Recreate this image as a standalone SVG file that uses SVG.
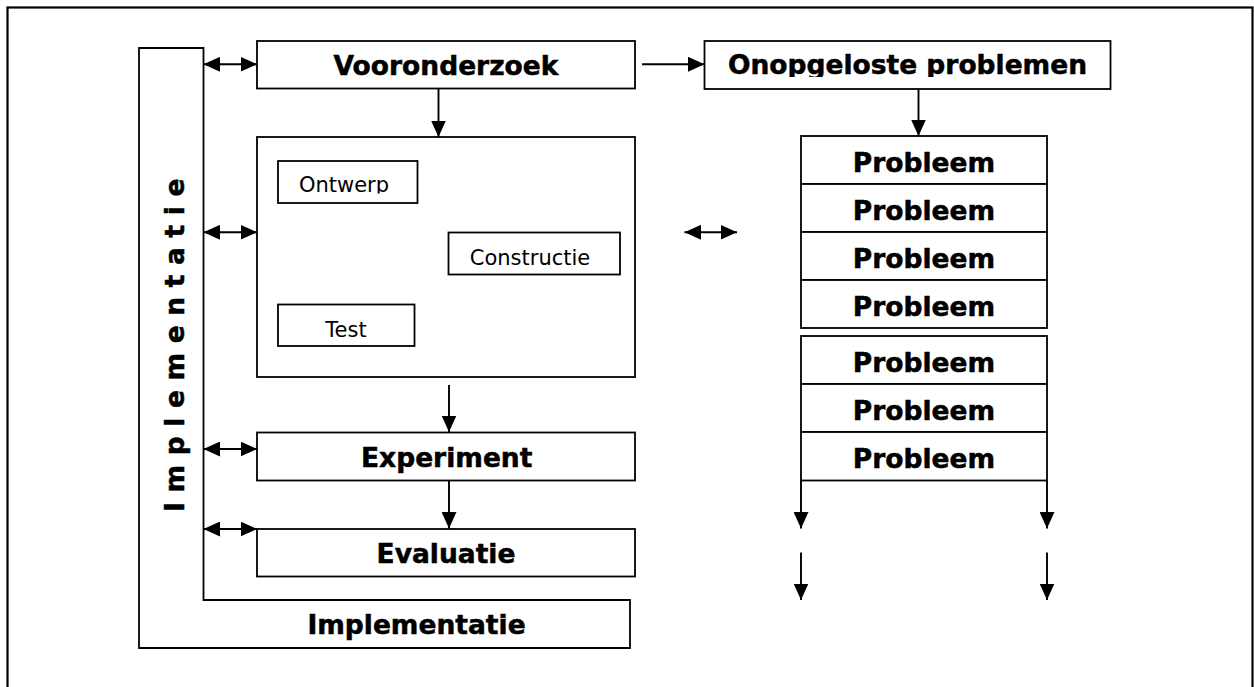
<svg xmlns="http://www.w3.org/2000/svg" width="1254" height="687" viewBox="0 0 1254 687">
<style>
.box{fill:#fff;stroke:#000;stroke-width:1.8}
.b{font-family:"DejaVu Sans","Liberation Sans",sans-serif;font-weight:bold;font-size:26.5px;fill:#000;stroke:#000;stroke-width:0.5;text-anchor:middle}
.r{font-family:"DejaVu Sans","Liberation Sans",sans-serif;font-size:21px;fill:#000;text-anchor:middle}
.c{fill:none;stroke:#000;stroke-width:1.9}
</style>
<defs>
<marker id="ah" markerUnits="userSpaceOnUse" markerWidth="17" markerHeight="15" refX="16.5" refY="7.5" orient="auto-start-reverse">
<path d="M0,0 L16.5,7.5 L0,15 z" fill="#000"/>
</marker>
<clipPath id="clipOnt"><rect x="278" y="161" width="139" height="32.5"/></clipPath>
<clipPath id="clipOno"><rect x="705" y="41" width="405" height="36"/></clipPath>
</defs>
<rect x="7.5" y="7.5" width="1245" height="700" fill="#fff" stroke="#000" stroke-width="2.2"/>

<g id="implementatie">
<path class="box" d="M139,48 L203.5,48 L203.5,600 L630,600 L630,648 L139,648 Z"/>
<text class="b" transform="translate(183.5,512) rotate(-90)" style="text-anchor:start;letter-spacing:9.6px">Implementatie</text>
<text class="b" x="416.5" y="634.3">Implementatie</text>
</g>

<g id="vooronderzoek">
<rect class="box" x="257" y="41" width="378" height="47.5"/>
<text class="b" x="446" y="75">Vooronderzoek</text>
</g>

<g id="onopgeloste">
<rect class="box" x="704.5" y="41" width="406" height="48"/>
<text class="b" x="907.5" y="74.3" clip-path="url(#clipOno)">Onopgeloste problemen</text>
</g>

<g id="ontwerpfase">
<rect class="box" x="257" y="137" width="378" height="240"/>
</g>
<g id="ontwerp">
<rect class="box" x="278" y="161" width="139.5" height="42"/>
<text class="r" x="344" y="192.3" clip-path="url(#clipOnt)">Ontwerp</text>
</g>
<g id="constructie">
<rect class="box" x="448.5" y="232.5" width="171.5" height="42"/>
<text class="r" x="530" y="265">Constructie</text>
</g>
<g id="test">
<rect class="box" x="278" y="304.5" width="136.5" height="41.5"/>
<text class="r" x="346" y="336.7">Test</text>
</g>

<g id="experiment">
<rect class="box" x="257" y="432.5" width="378" height="48"/>
<text class="b" x="446.7" y="467.3">Experiment</text>
</g>
<g id="evaluatie">
<rect class="box" x="257" y="529" width="378" height="47.5"/>
<text class="b" x="446" y="562.7">Evaluatie</text>
</g>

<g id="problemen1">
<rect class="box" x="801" y="136" width="246" height="48"/>
<text class="b" x="924" y="171.7">Probleem</text>
<rect class="box" x="801" y="184" width="246" height="48"/>
<text class="b" x="924" y="219.7">Probleem</text>
<rect class="box" x="801" y="232" width="246" height="48"/>
<text class="b" x="924" y="267.7">Probleem</text>
<rect class="box" x="801" y="280" width="246" height="48"/>
<text class="b" x="924" y="315.7">Probleem</text>
</g>
<g id="problemen2">
<rect class="box" x="801" y="336" width="246" height="48"/>
<text class="b" x="924" y="371.7">Probleem</text>
<rect class="box" x="801" y="384" width="246" height="48"/>
<text class="b" x="924" y="419.7">Probleem</text>
<rect class="box" x="801" y="432" width="246" height="48.5"/>
<text class="b" x="924" y="467.7">Probleem</text>
</g>

<g id="connectors">
<line class="c" x1="203.5" y1="64.3" x2="257" y2="64.3" marker-start="url(#ah)" marker-end="url(#ah)"/>
<line class="c" x1="203.5" y1="232.3" x2="257" y2="232.3" marker-start="url(#ah)" marker-end="url(#ah)"/>
<line class="c" x1="203.5" y1="449" x2="257" y2="449" marker-start="url(#ah)" marker-end="url(#ah)"/>
<line class="c" x1="203.5" y1="529" x2="257" y2="529" marker-start="url(#ah)" marker-end="url(#ah)"/>
<line class="c" x1="684.5" y1="232.3" x2="737" y2="232.3" marker-start="url(#ah)" marker-end="url(#ah)"/>
<line class="c" x1="642" y1="64.3" x2="704.5" y2="64.3" marker-end="url(#ah)"/>
<line class="c" x1="438.5" y1="88.5" x2="438.5" y2="137" marker-end="url(#ah)"/>
<line class="c" x1="918.5" y1="89" x2="918.5" y2="136" marker-end="url(#ah)"/>
<line class="c" x1="449" y1="385" x2="449" y2="432" marker-end="url(#ah)"/>
<line class="c" x1="449" y1="480.5" x2="449" y2="528.5" marker-end="url(#ah)"/>
<line class="c" x1="801" y1="480.5" x2="801" y2="528.5" marker-end="url(#ah)"/>
<line class="c" x1="1047" y1="480.5" x2="1047" y2="528.5" marker-end="url(#ah)"/>
<line class="c" x1="801" y1="552.5" x2="801" y2="600" marker-end="url(#ah)"/>
<line class="c" x1="1047" y1="552.5" x2="1047" y2="600" marker-end="url(#ah)"/>
</g>
</svg>
